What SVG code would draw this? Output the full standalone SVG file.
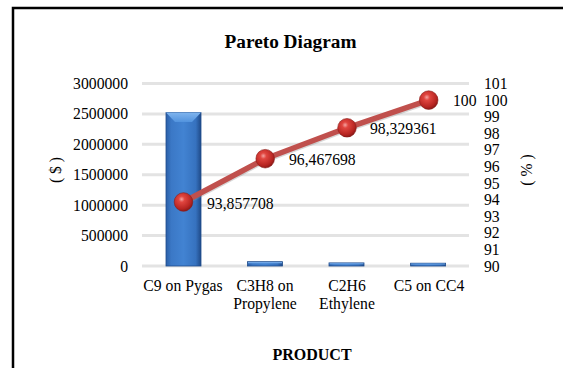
<svg xmlns="http://www.w3.org/2000/svg" width="563" height="368" viewBox="0 0 563 368">
<defs>
<style>
text{font-family:"Liberation Serif","Times New Roman",serif;fill:#000;}
.ax{font-size:15.7px;}
.axl{font-size:15.7px;text-anchor:end;}
.dl{font-size:15.7px;}
.cat{font-size:15.7px;text-anchor:middle;}
.ttl{font-size:19.3px;font-weight:bold;text-anchor:middle;}
.xt{font-size:16px;font-weight:bold;text-anchor:middle;}
.grid{stroke:#e3e3e3;stroke-width:3;}
.bar{fill:url(#barG);stroke:#1e4c8c;stroke-width:0.8;}
.pt{fill:url(#ptG);stroke:#8a1c1a;stroke-width:0.6;}
</style>
<linearGradient id="barG" x1="0" y1="0" x2="1" y2="0">
<stop offset="0" stop-color="#2b5fa8"/>
<stop offset="0.15" stop-color="#3b78c6"/>
<stop offset="0.5" stop-color="#4283d2"/>
<stop offset="0.85" stop-color="#3672bf"/>
<stop offset="1" stop-color="#1f4a88"/>
</linearGradient>
<linearGradient id="bevG" x1="0" y1="0" x2="0" y2="1">
<stop offset="0" stop-color="#7fb4ee"/>
<stop offset="1" stop-color="#5293de"/>
</linearGradient>
<radialGradient id="ptG" cx="0.4" cy="0.35" r="0.65">
<stop offset="0" stop-color="#f4a3a0"/>
<stop offset="0.25" stop-color="#e0453f"/>
<stop offset="0.8" stop-color="#b62421"/>
<stop offset="1" stop-color="#8e1a18"/>
</radialGradient>
</defs>
<rect width="563" height="368" fill="#fff"/>
<rect x="13" y="8" width="600" height="400" fill="none" stroke="#000" stroke-width="2.5"/>
<text class="ttl" x="290.5" y="48">Pareto Diagram</text>
<g id="grid">
<line class="grid" x1="142" y1="83.5" x2="469" y2="83.5"/>
<line class="grid" x1="142" y1="113.9" x2="469" y2="113.9"/>
<line class="grid" x1="142" y1="144.3" x2="469" y2="144.3"/>
<line class="grid" x1="142" y1="174.8" x2="469" y2="174.8"/>
<line class="grid" x1="142" y1="205.2" x2="469" y2="205.2"/>
<line class="grid" x1="142" y1="235.6" x2="469" y2="235.6"/>
<line class="grid" x1="142" y1="266" x2="469" y2="266"/>
</g>
<g id="left-axis">
<text class="axl" x="128" y="89">3000000</text>
<text class="axl" x="128" y="119.4">2500000</text>
<text class="axl" x="128" y="149.8">2000000</text>
<text class="axl" x="128" y="180.3">1500000</text>
<text class="axl" x="128" y="210.7">1000000</text>
<text class="axl" x="128" y="241.1">500000</text>
<text class="axl" x="128" y="271.5">0</text>
<text class="ax" transform="translate(61,170) rotate(-90)" text-anchor="middle">( $ )</text>
</g>
<g id="right-axis">
<text class="ax" x="484" y="89">101</text>
<text class="ax" x="484" y="105.6">100</text>
<text class="ax" x="484" y="122.2">99</text>
<text class="ax" x="484" y="138.8">98</text>
<text class="ax" x="484" y="155.4">97</text>
<text class="ax" x="484" y="172">96</text>
<text class="ax" x="484" y="188.5">95</text>
<text class="ax" x="484" y="205.1">94</text>
<text class="ax" x="484" y="221.7">93</text>
<text class="ax" x="484" y="238.3">92</text>
<text class="ax" x="484" y="254.9">91</text>
<text class="ax" x="484" y="271.5">90</text>
<text class="ax" transform="translate(532,170) rotate(-90)" text-anchor="middle">( % )</text>
</g>
<g id="bar-c9">
<rect class="bar" x="166" y="112.6" width="35" height="153.4"/>
<polygon points="166,112.6 201,112.6 192,122 175,122" fill="url(#bevG)"/>
</g>
<g id="bar-c3h8">
<rect class="bar" x="247.5" y="261.7" width="35" height="4.3"/>
<rect x="248" y="262" width="34" height="1.3" fill="#6fa6e6"/>
</g>
<g id="bar-c2h6">
<rect class="bar" x="329" y="262.9" width="35" height="3.1"/>
<rect x="329.5" y="263.2" width="34" height="1.1" fill="#6fa6e6"/>
</g>
<g id="bar-c5">
<rect class="bar" x="410.6" y="263.2" width="35" height="2.8"/>
<rect x="411.1" y="263.5" width="34" height="1" fill="#6fa6e6"/>
</g>
<g id="connectors">
<polyline points="183.5,203.5 265.2,160.2 347,129.3 428.7,101.6" fill="none" stroke="#8c8c8c" stroke-opacity="0.35" stroke-width="5.5" stroke-linejoin="round"/>
<polyline points="183.5,202 265.2,158.7 347,127.8 428.7,100.1" fill="none" stroke="#c0504d" stroke-width="5.5" stroke-linejoin="round"/>
</g>
<g id="pt-1"><circle class="pt" cx="183.5" cy="202" r="9.3"/><text class="dl" x="207" y="209">93,857708</text></g>
<g id="pt-2"><circle class="pt" cx="265.2" cy="158.7" r="9.3"/><text class="dl" x="289" y="165">96,467698</text></g>
<g id="pt-3"><circle class="pt" cx="347" cy="127.8" r="9.3"/><text class="dl" x="370" y="134">98,329361</text></g>
<g id="pt-4"><circle class="pt" cx="428.7" cy="100.1" r="9.3"/><text class="dl" x="453" y="106">100</text></g>
<g id="categories">
<text class="cat" x="183" y="291">C9 on Pygas</text>
<text class="cat" x="265" y="291">C3H8 on</text>
<text class="cat" x="265" y="309">Propylene</text>
<text class="cat" x="347" y="291">C2H6</text>
<text class="cat" x="347" y="309">Ethylene</text>
<text class="cat" x="429" y="291">C5 on CC4</text>
</g>
<text class="xt" x="312" y="360">PRODUCT</text>
</svg>
